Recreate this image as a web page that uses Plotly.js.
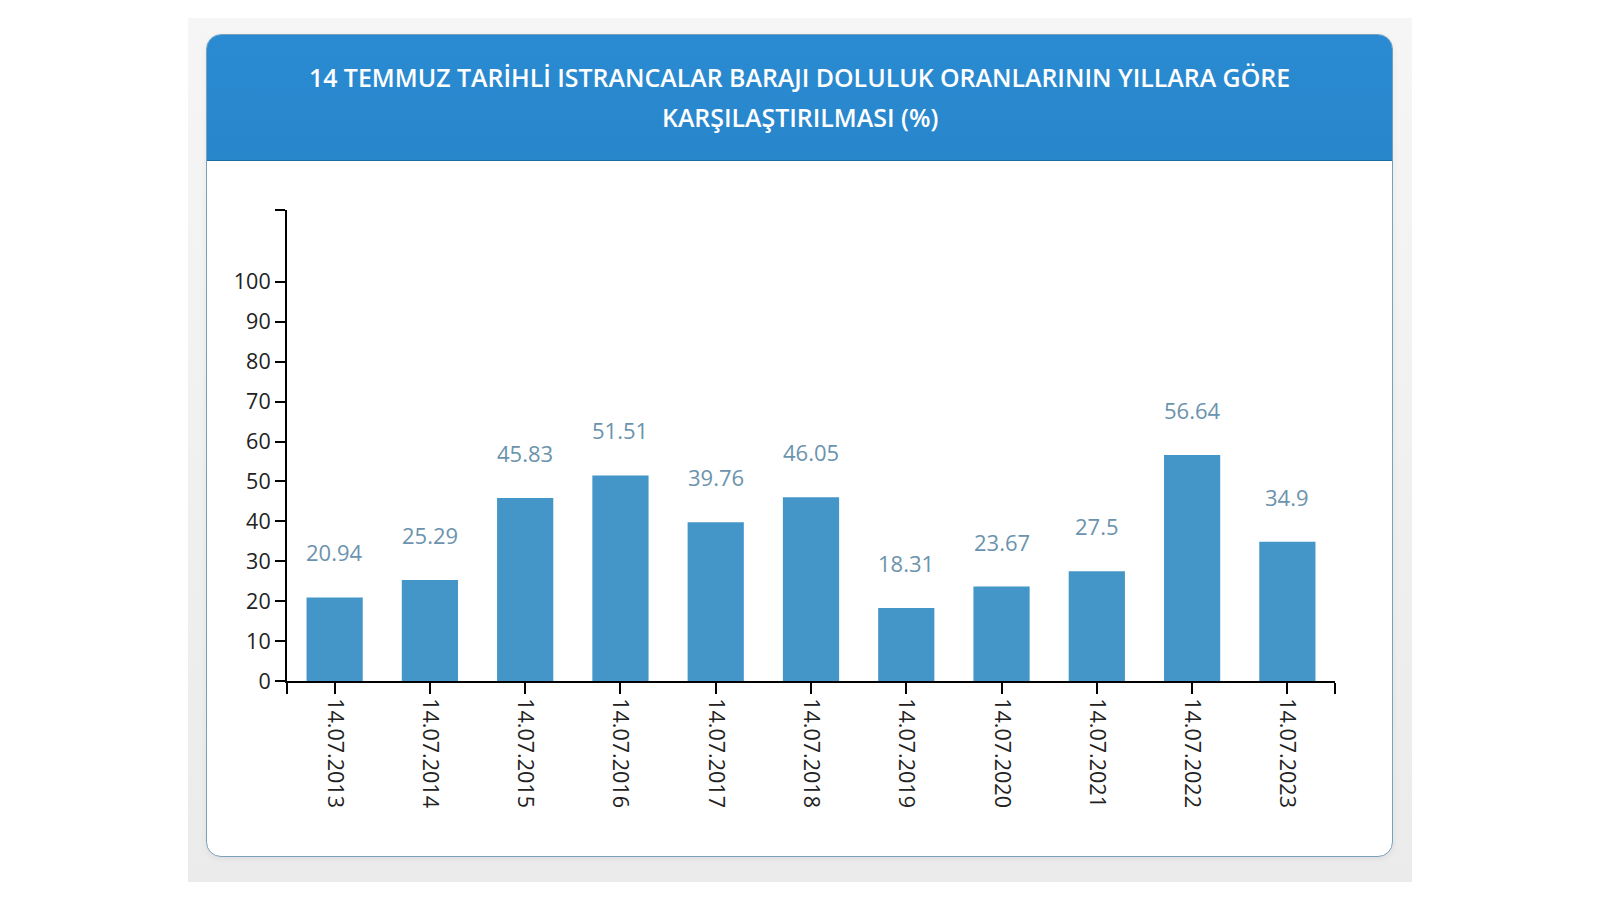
<!DOCTYPE html>
<html>
<head>
<meta charset="utf-8">
<script src="https://cdn.plot.ly/plotly-3.0.1.min.js"></script>
<style>
  html, body { margin: 0; padding: 0; background: #ffffff; width: 1600px; height: 900px; overflow: hidden; }
  #shadow { position: absolute; left: 188px; top: 18px; width: 1224px; height: 864px;
            background: linear-gradient(#f6f6f6, #ebebeb); }
  #card { position: absolute; left: 206px; top: 34px; width: 1185px; height: 821px;
          background: #ffffff; border: 1.5px solid #78a2bb; border-radius: 15px; overflow: hidden;
          box-shadow: 0 2px 6px rgba(0,0,0,0.06); }
  #header { position: absolute; left: 0; top: 0; width: 100%; height: 125px;
            background: linear-gradient(#2a8bd2, #2886cb); border-bottom: 1.5px solid #1d6ca3; }
  #chart { position: absolute; left: 0; top: 0; width: 1600px; height: 900px; }
</style>
</head>
<body>
<div id="shadow"></div>
<div id="card"><div id="header"></div></div>
<div id="chart"></div>
<script>
const categories = ["14.07.2013","14.07.2014","14.07.2015","14.07.2016","14.07.2017","14.07.2018","14.07.2019","14.07.2020","14.07.2021","14.07.2022","14.07.2023"];
const values = [20.94, 25.29, 45.83, 51.51, 39.76, 46.05, 18.31, 23.67, 27.5, 56.64, 34.9];
const yTickValues = [0, 10, 20, 30, 40, 50, 60, 70, 80, 90, 100];
const titleLine1 = "14 TEMMUZ TARİHLİ ISTRANCALAR BARAJI DOLULUK ORANLARININ YILLARA GÖRE";
const titleLine2 = "KARŞILAŞTIRILMASI (%)";

const idx = categories.map((c, i) => i);
const yMax = 118;

// plot area in pixels
const L = 287, R = 1335, T = 210, B = 681;
const W = 1600, H = 900;
const px = X => (X - L) / (R - L);
const py = Y => (B - Y) / (B - T);

const fontFam = "Open Sans, Noto Sans, sans-serif";

const trace = {
  type: "bar",
  x: idx,
  y: values,
  width: 0.59,
  marker: { color: "#4396c7" },
  hoverinfo: "skip",
  showlegend: false
};

const labelAnn = values.map((v, i) => ({
  x: idx[i], y: v, xref: "x", yref: "y",
  text: String(v), showarrow: false,
  yanchor: "middle", yshift: 45,
  font: { family: fontFam, size: 22, color: "#6b93ad" }
}));

const titleFont = { family: fontFam, size: 24.9, color: "#ffffff", weight: 600 };

const layout = {
  width: W, height: H,
  paper_bgcolor: "rgba(0,0,0,0)",
  plot_bgcolor: "rgba(0,0,0,0)",
  margin: { l: L, r: W - R, t: T, b: H - B, pad: 0 },
  title: {
    text: titleLine1,
    font: titleFont,
    xref: "container", yref: "container",
    x: 799.5 / W, y: 1 - 78 / H,
    xanchor: "center", yanchor: "middle"
  },
  xaxis: {
    range: [-0.5, categories.length - 0.5],
    tickvals: [-0.5].concat(idx, [categories.length - 0.5]),
    ticktext: [""].concat(categories, [""]),
    tickangle: 90,
    ticks: "outside", ticklen: 11, tickwidth: 2, tickcolor: "#000",
    showline: true, linecolor: "#000", linewidth: 2,
    showgrid: false, zeroline: false,
    tickfont: { family: fontFam, size: 21.5, color: "#222" },
    fixedrange: true
  },
  yaxis: {
    range: [0, yMax],
    tickvals: yTickValues.concat([yMax]),
    ticktext: yTickValues.map(String).concat([""]),
    ticks: "outside", ticklen: 10, tickwidth: 2, tickcolor: "#000",
    showline: true, linecolor: "#000", linewidth: 2,
    showgrid: false, zeroline: false,
    tickfont: { family: fontFam, size: 21.5, color: "#222" },
    fixedrange: true
  },
  annotations: labelAnn.concat([{
    xref: "paper", yref: "paper",
    x: px(799.5), y: py(117),
    xanchor: "center", yanchor: "middle",
    text: titleLine2, showarrow: false,
    font: titleFont
  }])
};

Plotly.newPlot("chart", [trace], layout, { displayModeBar: false, staticPlot: true });
</script>
</body>
</html>
